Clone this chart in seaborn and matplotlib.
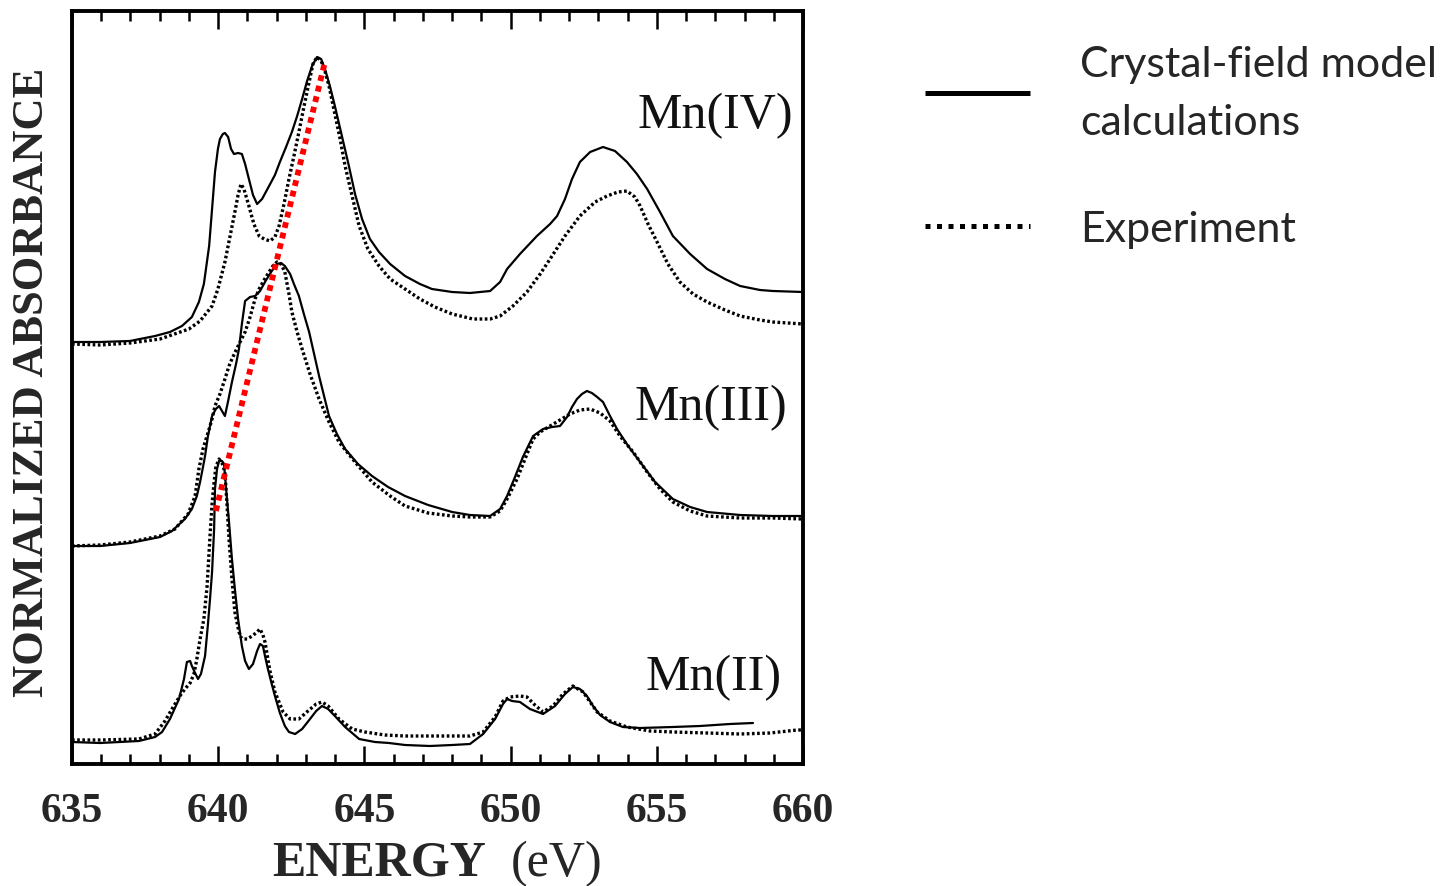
import matplotlib
matplotlib.use("Agg")
import matplotlib.pyplot as plt
from matplotlib.lines import Line2D
from matplotlib.ticker import MultipleLocator
import seaborn as sns

# ---- L2,3-edge spectra: energy (eV) and normalized absorbance (offset per oxidation state)
mn4_calc_e = [635.00, 635.96, 636.98, 637.84, 638.35, 638.76, 639.10, 639.34, 639.51, 639.69,
              639.79, 639.89, 639.99, 640.06, 640.16, 640.23, 640.34, 640.44, 640.54, 640.68,
              640.81, 640.92, 641.05, 641.19, 641.33, 641.50, 641.74, 641.94, 642.11, 642.32,
              642.52, 642.70, 642.87, 643.04, 643.21, 643.38, 643.52, 643.65, 643.82, 643.99,
              644.23, 644.47, 644.68, 644.92, 645.19, 645.50, 645.88, 646.39, 646.90, 647.31,
              648.00, 648.61, 649.30, 649.64, 649.88, 650.32, 650.90, 651.35, 651.59, 651.86,
              652.10, 652.37, 652.72, 653.16, 653.57, 653.98, 654.32, 654.67, 655.11, 655.55,
              656.14, 656.72, 657.33, 657.85, 658.53, 658.97, 660.00]
mn4_calc_a = [4.22, 4.22, 4.23, 4.28, 4.32, 4.38, 4.47, 4.62, 4.80, 5.18,
              5.55, 5.92, 6.15, 6.25, 6.30, 6.31, 6.27, 6.15, 6.10, 6.11,
              6.10, 6.00, 5.85, 5.69, 5.60, 5.65, 5.78, 5.89, 6.02, 6.17,
              6.32, 6.48, 6.65, 6.83, 6.98, 7.07, 7.05, 6.95, 6.78, 6.58,
              6.28, 5.98, 5.70, 5.45, 5.25, 5.12, 5.00, 4.88, 4.80, 4.75,
              4.72, 4.71, 4.73, 4.82, 4.95, 5.10, 5.28, 5.40, 5.48, 5.65,
              5.85, 6.02, 6.12, 6.17, 6.13, 6.02, 5.90, 5.75, 5.52, 5.28,
              5.10, 4.95, 4.85, 4.78, 4.74, 4.73, 4.72]

mn4_exp_e = [635.00, 635.96, 636.98, 638.01, 639.00, 639.38, 639.79, 639.99, 640.23, 640.40,
             640.57, 640.68, 640.78, 640.88, 641.05, 641.22, 641.40, 641.57, 641.77, 641.94,
             642.08, 642.25, 642.42, 642.59, 642.76, 642.93, 643.11, 643.24, 643.38, 643.52,
             643.65, 643.79, 643.99, 644.17, 644.34, 644.58, 644.82, 645.12, 645.50, 645.88,
             646.39, 646.90, 647.41, 648.00, 648.71, 649.30, 649.64, 650.08, 650.56, 651.01,
             651.35, 651.86, 652.37, 652.89, 653.30, 653.67, 653.98, 654.25, 654.43, 654.70,
             655.01, 655.38, 655.79, 656.24, 656.72, 657.33, 657.85, 658.53, 658.97, 660.00]
mn4_exp_a = [4.20, 4.19, 4.21, 4.25, 4.35, 4.43, 4.58, 4.75, 5.02, 5.27,
             5.52, 5.69, 5.80, 5.75, 5.58, 5.40, 5.28, 5.25, 5.23, 5.27,
             5.38, 5.60, 5.85, 6.08, 6.32, 6.57, 6.82, 7.00, 7.07, 7.03,
             6.93, 6.78, 6.50, 6.25, 5.98, 5.68, 5.38, 5.15, 4.98, 4.85,
             4.75, 4.65, 4.57, 4.50, 4.45, 4.45, 4.48, 4.58, 4.72, 4.90,
             5.05, 5.28, 5.48, 5.62, 5.68, 5.72, 5.73, 5.67, 5.58, 5.40,
             5.22, 5.00, 4.82, 4.70, 4.62, 4.54, 4.48, 4.44, 4.42, 4.40]

mn3_calc_e = [635.00, 635.96, 636.98, 638.01, 638.42, 638.86, 639.10, 639.27, 639.38, 639.48,
              639.55, 639.65, 639.79, 639.92, 640.03, 640.13, 640.23, 640.34, 640.47, 640.61,
              640.71, 640.81, 640.92, 641.09, 641.26, 641.43, 641.60, 641.81, 642.01, 642.15,
              642.28, 642.46, 642.59, 642.76, 642.93, 643.11, 643.28, 643.45, 643.62, 643.79,
              644.06, 644.34, 644.78, 645.26, 645.81, 646.39, 647.18, 648.00, 648.61, 649.30,
              649.64, 649.88, 650.15, 650.42, 650.77, 651.11, 651.42, 651.69, 651.93, 652.10,
              652.27, 652.44, 652.61, 652.78, 652.96, 653.16, 653.40, 653.64, 654.02, 654.43,
              654.94, 655.55, 656.14, 656.72, 657.85, 658.97, 660.00]
mn3_calc_a = [2.18, 2.18, 2.21, 2.27, 2.33, 2.45, 2.55, 2.68, 2.82, 2.97,
              3.08, 3.28, 3.48, 3.55, 3.58, 3.53, 3.48, 3.63, 3.82, 4.00,
              4.15, 4.40, 4.63, 4.67, 4.68, 4.73, 4.82, 4.92, 5.00, 5.01,
              4.98, 4.90, 4.80, 4.68, 4.50, 4.32, 4.10, 3.88, 3.68, 3.48,
              3.30, 3.15, 3.00, 2.88, 2.77, 2.68, 2.59, 2.52, 2.49, 2.48,
              2.55, 2.68, 2.87, 3.07, 3.28, 3.35, 3.37, 3.38, 3.47, 3.57,
              3.65, 3.70, 3.73, 3.71, 3.67, 3.62, 3.48, 3.35, 3.18, 3.02,
              2.82, 2.65, 2.57, 2.52, 2.49, 2.48, 2.48]

mn3_exp_e = [635.00, 635.96, 636.98, 638.01, 638.52, 638.97, 639.21, 639.34, 639.48, 639.69,
             639.79, 639.89, 640.06, 640.23, 640.37, 640.47, 640.68, 640.92, 641.09, 641.26,
             641.40, 641.57, 641.74, 641.87, 642.01, 642.15, 642.28, 642.42, 642.52, 642.70,
             642.87, 643.14, 643.45, 643.79, 644.13, 644.68, 645.26, 645.88, 646.39, 647.18,
             648.00, 648.61, 649.30, 649.64, 649.88, 650.22, 650.56, 650.77, 651.01, 651.35,
             651.69, 652.03, 652.37, 652.72, 653.06, 653.40, 653.74, 654.19, 654.67, 655.11,
             655.55, 656.14, 656.72, 657.85, 658.97, 660.00]
mn3_exp_a = [2.18, 2.19, 2.22, 2.28, 2.35, 2.50, 2.68, 2.95, 3.15, 3.35,
             3.45, 3.58, 3.70, 3.85, 3.98, 4.05, 4.18, 4.32, 4.47, 4.65,
             4.75, 4.84, 4.92, 4.98, 5.02, 5.00, 4.92, 4.70, 4.52, 4.32,
             4.15, 3.90, 3.65, 3.42, 3.22, 3.02, 2.82, 2.68, 2.58, 2.51,
             2.48, 2.47, 2.47, 2.53, 2.65, 2.85, 3.10, 3.25, 3.32, 3.38,
             3.44, 3.50, 3.54, 3.55, 3.51, 3.43, 3.28, 3.12, 2.92, 2.75,
             2.62, 2.53, 2.48, 2.46, 2.46, 2.45]

mn2_calc_e = [635.00, 635.96, 637.29, 637.84, 638.08, 638.35, 638.66, 638.83, 638.93, 639.04,
              639.10, 639.21, 639.31, 639.41, 639.55, 639.65, 639.72, 639.79, 639.86, 639.89,
              639.96, 640.03, 640.13, 640.20, 640.27, 640.37, 640.47, 640.57, 640.68, 640.81,
              640.92, 641.05, 641.19, 641.33, 641.43, 641.53, 641.60, 641.70, 641.84, 641.94,
              642.11, 642.28, 642.42, 642.63, 642.87, 643.14, 643.35, 643.55, 643.76, 643.99,
              644.34, 644.82, 645.36, 645.84, 646.39, 647.24, 648.00, 648.61, 649.06, 649.47,
              649.74, 649.88, 650.05, 650.32, 650.66, 651.11, 651.52, 651.86, 652.13, 652.37,
              652.61, 652.82, 653.06, 653.40, 653.84, 654.43, 655.55, 656.48, 657.50, 658.29]
mn2_calc_a = [0.22, 0.21, 0.23, 0.27, 0.32, 0.45, 0.65, 0.85, 1.02, 1.03,
              0.98, 0.91, 0.85, 0.90, 1.08, 1.40, 1.65, 1.92, 2.35, 2.75,
              2.95, 3.03, 3.03, 3.00, 2.75, 2.42, 2.05, 1.75, 1.45, 1.18,
              1.03, 0.95, 1.00, 1.13, 1.20, 1.18, 1.08, 0.95, 0.79, 0.68,
              0.51, 0.38, 0.32, 0.30, 0.35, 0.45, 0.53, 0.58, 0.55, 0.48,
              0.37, 0.25, 0.22, 0.21, 0.19, 0.18, 0.19, 0.20, 0.30, 0.45,
              0.60, 0.65, 0.63, 0.62, 0.55, 0.50, 0.58, 0.70, 0.77, 0.75,
              0.68, 0.58, 0.49, 0.42, 0.37, 0.36, 0.37, 0.38, 0.40, 0.41]

mn2_exp_e = [635.00, 635.96, 637.29, 637.84, 638.18, 638.42, 638.69, 638.86, 639.04, 639.17,
             639.27, 639.38, 639.51, 639.62, 639.72, 639.79, 639.86, 639.92, 640.03, 640.13,
             640.23, 640.30, 640.37, 640.47, 640.57, 640.71, 640.81, 640.99, 641.16, 641.29,
             641.43, 641.53, 641.60, 641.77, 641.94, 642.22, 642.46, 642.76, 643.07, 643.35,
             643.55, 643.76, 644.13, 644.58, 645.02, 645.70, 646.39, 647.24, 648.00, 648.61,
             649.06, 649.47, 649.74, 649.98, 650.32, 650.56, 650.83, 651.11, 651.45, 651.79,
             652.13, 652.48, 652.72, 652.96, 653.40, 653.98, 654.77, 655.55, 656.72, 657.85,
             658.87, 659.80, 660.00]
mn2_exp_a = [0.24, 0.24, 0.25, 0.30, 0.43, 0.55, 0.68, 0.75, 0.81, 0.90,
             1.05, 1.25, 1.45, 1.78, 2.28, 2.60, 2.82, 2.97, 3.05, 3.01,
             2.92, 2.60, 2.25, 1.85, 1.52, 1.32, 1.25, 1.25, 1.28, 1.31,
             1.35, 1.29, 1.22, 0.93, 0.72, 0.52, 0.45, 0.45, 0.53, 0.60,
             0.62, 0.58, 0.45, 0.35, 0.32, 0.29, 0.28, 0.28, 0.28, 0.28,
             0.32, 0.47, 0.63, 0.67, 0.68, 0.67, 0.59, 0.52, 0.58, 0.70,
             0.78, 0.72, 0.62, 0.52, 0.43, 0.37, 0.33, 0.32, 0.31, 0.30,
             0.31, 0.34, 0.34]

# guide joining the main L3 peaks of Mn(II) and Mn(IV)
guide_e = [639.92, 643.65]
guide_a = [2.53, 7.02]

states = ["Mn(IV)", "Mn(III)", "Mn(II)"]
state_label_pos = [(659.66, 6.37), (659.45, 3.45), (659.28, 0.75)]

calc_series = [(mn4_calc_e, mn4_calc_a), (mn3_calc_e, mn3_calc_a), (mn2_calc_e, mn2_calc_a)]
exp_series = [(mn4_exp_e, mn4_exp_a), (mn3_exp_e, mn3_exp_a), (mn2_exp_e, mn2_exp_a)]

legend_labels = ["Crystal-field model\ncalculations", "Experiment"]

sns.set_theme(style="white")
plt.rcParams["font.family"] = ["Liberation Serif", "DejaVu Serif"]

W, H = 1453, 887
fig = plt.figure(figsize=(W / 100, H / 100), dpi=100)
ax = fig.add_axes([72 / W, 1 - 765 / H, 731 / W, 753 / H])

for e, a in calc_series:
    sns.lineplot(x=e, y=a, ax=ax, color="black", linewidth=1.6, sort=False)
for e, a in exp_series:
    sns.lineplot(x=e, y=a, ax=ax, color="black", linewidth=2.4, sort=False,
                 linestyle=(0, (0.8, 0.75)))

sns.lineplot(x=guide_e, y=guide_a, ax=ax, color="#ff0000", linewidth=4.2, sort=False,
             linestyle=(0, (1.0, 0.85)), solid_capstyle="butt", dash_capstyle="butt")

for name, (xe, ya) in zip(states, state_label_pos):
    ax.text(xe, ya, name, ha="right", va="baseline", fontsize=36, color="#111111")

ax.set_xlim(635, 660)
ax.set_ylim(0, 7.53)
ax.set_xticks(range(635, 661, 5))
ax.xaxis.set_minor_locator(MultipleLocator(1))
ax.set_yticks([])
ax.tick_params(axis="x", which="both", direction="in", top=True, bottom=True,
               color="black", width=1.8)
ax.tick_params(axis="x", which="major", length=13, pad=20, labelsize=30)
ax.tick_params(axis="x", which="minor", length=7)
for lbl in ax.get_xticklabels():
    lbl.set_fontweight("bold")
for sp in ax.spines.values():
    sp.set_visible(True)
    sp.set_color("black")
    sp.set_linewidth(2.8)
ax.set_xlabel("")
ax.set_ylabel("")

fig.text(272 / W, 1 - 876 / H, "ENERGY", fontsize=36, fontweight="bold",
         ha="left", va="baseline")
fig.text(511 / W, 1 - 876 / H, "(eV)", fontsize=36, ha="left", va="baseline")
fig.text(32 / W, 1 - 382 / H, "NORMALIZED ABSORBANCE", fontsize=32, fontweight="bold",
         rotation=90, ha="center", va="center")

handles = [Line2D([], [], color="black", linewidth=3.6, solid_capstyle="butt"),
           Line2D([], [], color="black", linewidth=3.6, linestyle=(0, (1, 1.3)),
                  dash_capstyle="butt")]
leg = fig.legend(handles, legend_labels, loc="upper left",
                 bbox_to_anchor=(925 / W, 1 - 46 / H), frameon=False,
                 borderaxespad=0, borderpad=0, handlelength=2.45, handletextpad=1.15,
                 labelspacing=1.62, prop={"family": "Lato", "size": 31})
for t in leg.get_texts():
    t.set_linespacing(1.63)

fig.savefig("out.png", dpi=100)
